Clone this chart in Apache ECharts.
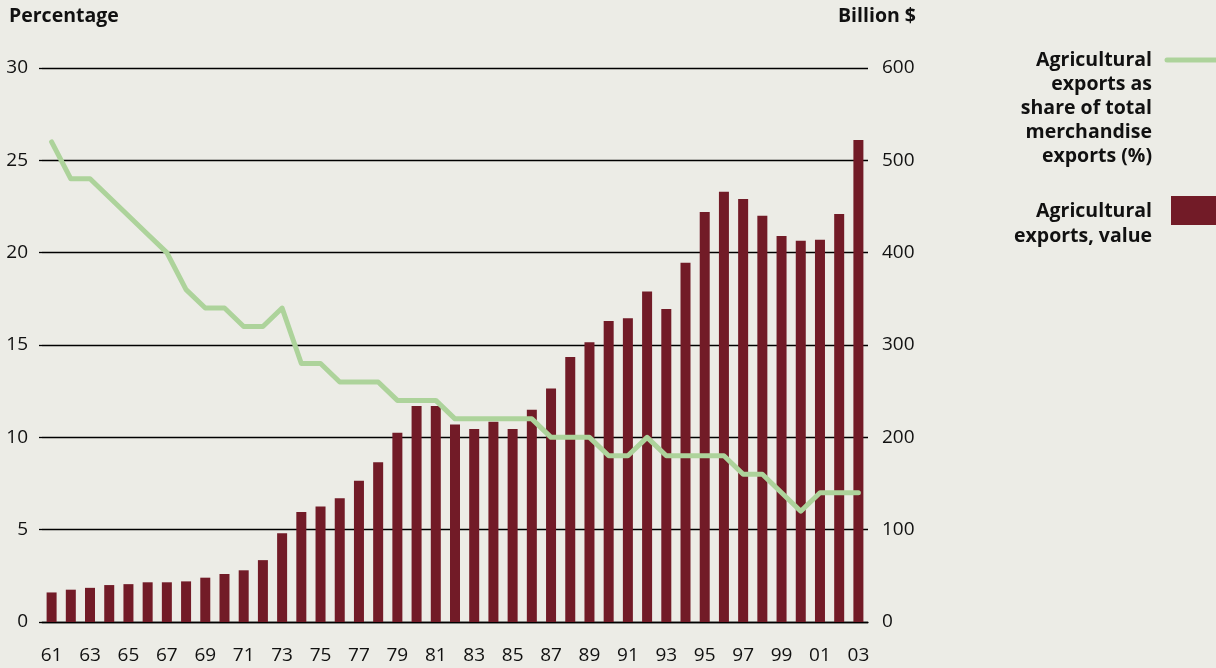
<!DOCTYPE html>
<html>
<head>
<meta charset="utf-8">
<script src="https://cdn.jsdelivr.net/npm/echarts@6/dist/echarts.min.js"></script>
<style>
html,body{margin:0;padding:0;background:#ECECE6;}
#c{width:1216px;height:668px;}
</style>
</head>
<body>
<div id="c"></div>
<script>
const years = ['61','62','63','64','65','66','67','68','69','70','71','72','73','74','75','76','77','78','79','80','81','82','83','84','85','86','87','88','89','90','91','92','93','94','95','96','97','98','99','00','01','02','03'];
const shareValues = [26,24,24,23,22,21,20,18,17,17,16,16,17,14,14,13,13,13,12,12,12,11,11,11,11,11,10,10,10,9,9,10,9,9,9,9,8,8,7,6,7,7,7];
const exportValues = [32,35,37,40,41,43,43,44,48,52,56,67,96,119,125,134,153,173,205,234,234,214,209,217,209,230,253,287,303,326,329,358,339,389,444,466,458,440,418,413,414,442,522];
const leftTicks = {min:0, max:30, interval:5};
const rightTicks = {min:0, max:600, interval:100};

const FONT = '"Open Sans", "Noto Sans", sans-serif';
const chart = echarts.init(document.getElementById('c'), null, {renderer:'canvas'});
const legendLine1 = ['Agricultural','exports as','share of total','merchandise','exports (%)'];
const legendLine2 = ['Agricultural','exports, value'];
const textStyleBold = {fontFamily: FONT, fontWeight: 'bold', fontSize: 19.5, fill: '#111', textAlign: 'right', textVerticalAlign: 'middle'};
const graphics = [
  {type:'text', left: 9, top: 6, style:{text:'Percentage', fontFamily:FONT, fontWeight:'bold', fontSize:19.5, fill:'#111'}},
  {type:'text', right: 300, top: 6, style:{text:'Billion $', fontFamily:FONT, fontWeight:'bold', fontSize:19.5, fill:'#111', textAlign:'right'}}
];
legendLine1.forEach((t,i)=>graphics.push({type:'text', x:1152, y:60+i*24, style:Object.assign({text:t}, textStyleBold)}));
legendLine2.forEach((t,i)=>graphics.push({type:'text', x:1152, y:211+i*25, style:Object.assign({text:t}, textStyleBold)}));
graphics.push({type:'line', shape:{x1:1167,y1:60,x2:1216,y2:60}, style:{stroke:'#ADD39B', lineWidth:5, lineCap:'round'}});
graphics.push({type:'rect', shape:{x:1171,y:196,width:45,height:29}, style:{fill:'#721B27'}});

chart.setOption({
  backgroundColor: '#ECECE6',
  animation: false,
  grid: {left: 42, right: 348, top: 68, bottom: 46, containLabel: false},
  xAxis: {
    type: 'category', data: years, boundaryGap: true,
    axisLine: {show: true, lineStyle: {color: '#000', width: 1.3}},
    axisTick: {show: false},
    axisLabel: {interval: 1, margin: 24, color: '#111', fontFamily: FONT, fontSize: 19}
  },
  yAxis: [
    {type: 'value', position: 'left', min: leftTicks.min, max: leftTicks.max, interval: leftTicks.interval,
     axisLine: {show: false}, axisTick: {show: true, length: 3, lineStyle: {color: '#000', width: 1.3}},
     splitLine: {show: true, lineStyle: {color: '#000', width: 1.3}},
     axisLabel: {margin: 14, color: '#111', fontFamily: FONT, fontSize: 19}},
    {type: 'value', position: 'right', min: rightTicks.min, max: rightTicks.max, interval: rightTicks.interval,
     axisLine: {show: false}, axisTick: {show: false}, splitLine: {show: false},
     axisLabel: {margin: 14, color: '#111', fontFamily: FONT, fontSize: 19}}
  ],
  series: [
    {type: 'bar', name: 'Agricultural exports, value', yAxisIndex: 1, data: exportValues, barWidth: 10,
     itemStyle: {color: '#721B27'}},
    {type: 'line', name: 'Agricultural exports as share of total merchandise exports (%)', yAxisIndex: 0, data: shareValues,
     symbol: 'none', lineStyle: {color: '#ADD39B', width: 5, cap: 'round', join: 'round'}, z: 5}
  ],
  graphic: graphics
});
</script>
</body>
</html>
